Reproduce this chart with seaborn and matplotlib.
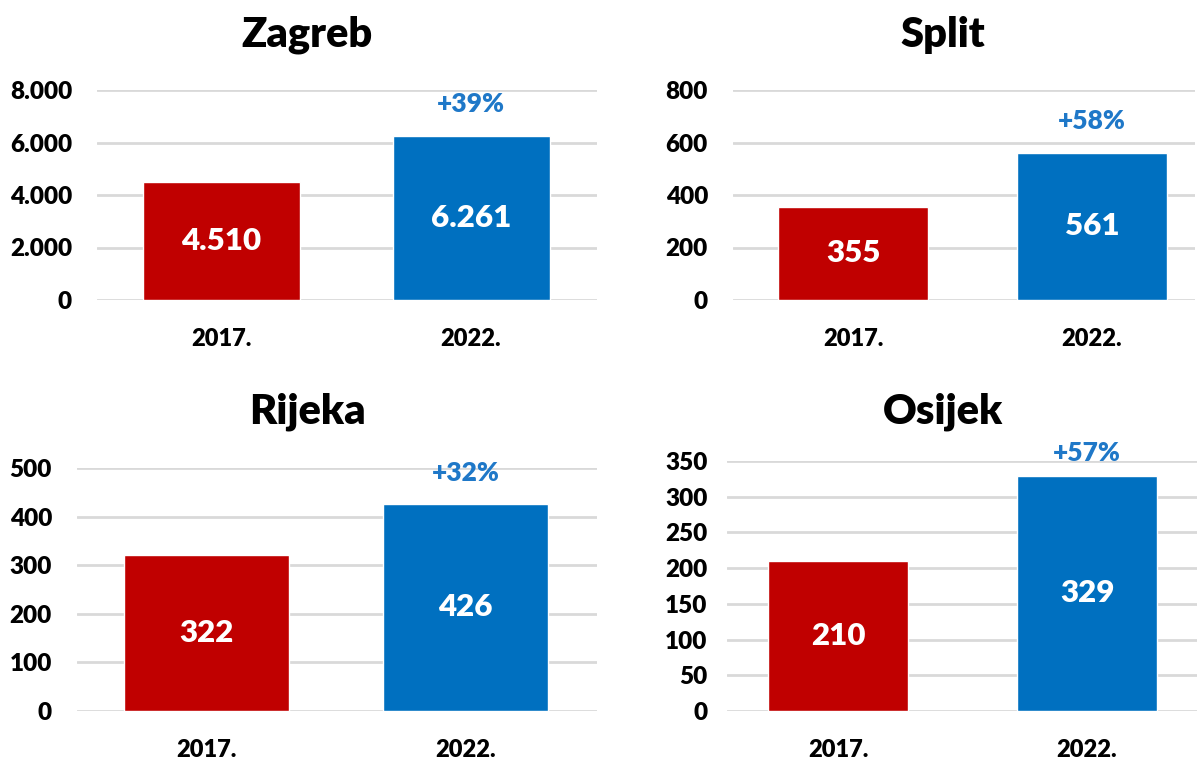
import pandas as pd
import matplotlib.pyplot as plt
import seaborn as sns

cities = ['Zagreb', 'Split', 'Rijeka', 'Osijek']
years = ['2017.', '2022.']
values_2017 = [4510, 355, 322, 210]
values_2022 = [6261, 561, 426, 329]
growth = ['+39%', '+58%', '+32%', '+57%']
y_max = [8000, 800, 500, 350]
y_step = [2000, 200, 100, 50]

sns.set_theme(style='white')
plt.rcParams['font.family'] = ['Lato', 'DejaVu Sans']

RED = '#C00000'
BLUE = '#0070C0'
PCT = '#1F78C8'

W, H = 1201, 762
# panel layout in pixels: left, right, y of zero line, y of top gridline, first bar centre, spacing, bar px
layout = [
    (97, 597, 300, 90, 221, 250, 157),
    (733, 1195, 300, 90, 853, 239, 150),
    (77, 597, 711, 468, 206.5, 259, 165),
    (727, 1197, 711, 461, 838, 249, 140),
]
title_pos = [(307, 35), (943, 35), (307, 412), (943, 412)]


def fmt(v):
    return f'{v:,}'.replace(',', '.')


fig = plt.figure(figsize=(W / 100, H / 100), dpi=100)

for i, city in enumerate(cities):
    left, right, y0, ytop, c0, sp, bw = layout[i]
    ax = fig.add_axes([left / W, 1 - y0 / H, (right - left) / W, (y0 - ytop) / H])
    df = pd.DataFrame({'year': years, 'value': [values_2017[i], values_2022[i]]})
    sns.barplot(data=df, x='year', y='value', hue='year', palette=[RED, BLUE],
                saturation=1, width=bw / sp, legend=False, ax=ax, zorder=3)
    ax.set_xlim((left - c0) / sp, (right - c0) / sp)
    ax.set_ylim(0, y_max[i])
    ticks = list(range(0, y_max[i] + 1, y_step[i]))
    ax.set_yticks(ticks)
    ax.set_yticklabels([fmt(t) for t in ticks])
    ax.yaxis.grid(True, color='#d9d9d9', linewidth=2, zorder=0)
    ax.set_axisbelow(True)
    for s in ax.spines.values():
        s.set_visible(False)
    ax.tick_params(axis='y', length=0, pad=18 if i != 3 else 14, labelsize=17.5)
    ax.tick_params(axis='x', length=0, pad=20, labelsize=17)
    for lab in ax.get_yticklabels() + ax.get_xticklabels():
        lab.set_fontweight('heavy')
        lab.set_color('black')
    ax.set_xlabel('')
    ax.set_ylabel('')

    vals = [values_2017[i], values_2022[i]]
    for j, v in enumerate(vals):
        ax.text(j, v / 2, fmt(v), ha='center', va='center', color='white',
                fontsize=22.5, fontweight='heavy', zorder=5)
    ax.annotate(growth[i], xy=(1, vals[1]), xytext=(0, 14 if i != 3 else 8),
                textcoords='offset points', ha='center', va='bottom',
                color=PCT, fontsize=19, fontweight='heavy', annotation_clip=False)

    tx, ty = title_pos[i]
    fig.text(tx / W, 1 - ty / H, city, ha='center', va='center',
             fontsize=30, fontweight='heavy', color='black')

plt.savefig('out.png', dpi=100)
